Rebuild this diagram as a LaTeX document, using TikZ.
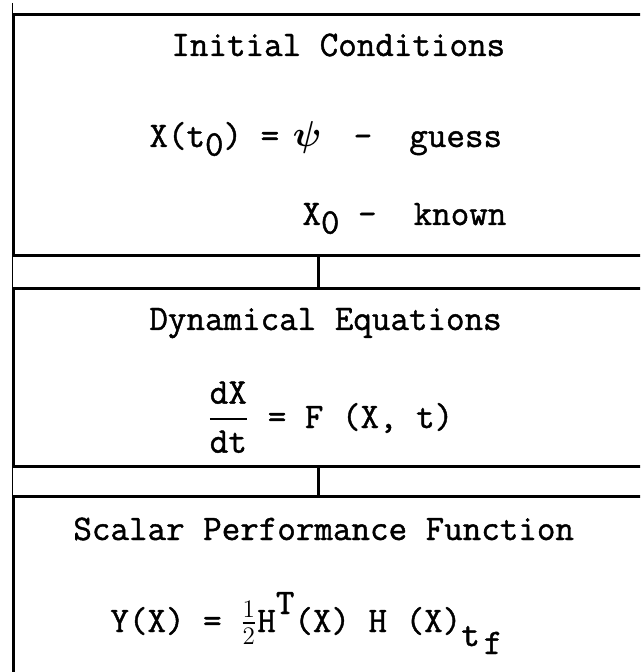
\documentclass[tikz,border=0pt]{standalone}
\usepackage{fix-cm}
\usepackage{fontspec}
\setmonofont{Latin Modern Mono}[FakeBold=1.2]
\usepackage{amsmath}
\usetikzlibrary{positioning}

\newcommand{\lowr}[1]{\raisebox{-4.3pt}{#1}}
\newcommand{\highr}[1]{\raisebox{9pt}{#1}}
\newcommand{\slot}[1]{\makebox[0.525em]{#1}}

\begin{document}
\begin{tikzpicture}[
    x=0.5pt, y=-0.5pt,
    panel/.style={rectangle, draw, line width=1.5pt, anchor=north west, minimum width=320pt, inner sep=0pt},
    link/.style={line width=1.5pt},
    edge/.style={line width=0.5pt},
    label/.style={anchor=base west, inner sep=0pt, font=\fontsize{18}{22}\selectfont\ttfamily}
]
    \useasboundingbox (0,0) rectangle (640,672);
    \clip (0,0) rectangle (640,672);
    % the three panels, cut off at the right and at the bottom
    \node[panel, minimum height=120.75pt] (init) at (12,13) {};
    \node[panel, minimum height=88.75pt] (dyn) at (12,287) {};
    \node[panel, minimum height=110pt] (perf) at (12,495) {};
    \draw[edge] ([yshift=5pt]init.north west) -- (perf.south west);
    \draw[link] ([xshift=153pt]init.south west) -- ([xshift=153pt]dyn.north west);
    \draw[link] ([xshift=153pt]dyn.south west) -- ([xshift=153pt]perf.north west);
    % texts
    \node[label] (inittitle) at (171,56) {Initial Conditions};
    \node[label] (initguess) at (149,147) {X(t\lowr{0}) = \slot{$\boldsymbol{\psi}$}\ \ -\ \ guess};
    \node[label] (initknown) at (302,225) {X\lowr{0} -\ \ known};
    \node[label] (dyntitle) at (149,330) {Dynamical Equations};
    \node[label] (dyneq) at (207,428) {$\dfrac{\text{dX}}{\text{dt}}$ = F (X, t)};
    \node[label] (perftitle) at (73,540) {Scalar Performance Function};
    \node[label] (perfeq) at (110,632) {Y(X) = $\tfrac{1}{2}$H\highr{T}(X) H (X)\raisebox{-7pt}{t\hspace{2pt}\raisebox{-4pt}{f}}};
\end{tikzpicture}
\end{document}
